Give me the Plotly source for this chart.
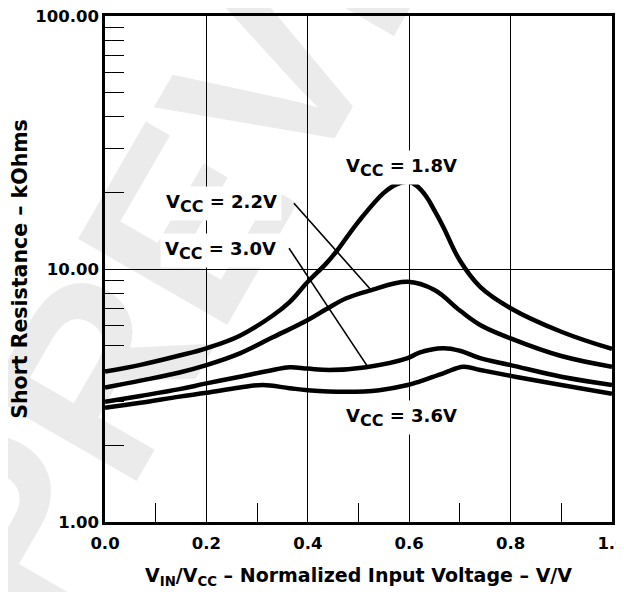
import base64
import plotly.graph_objects as go

# ---------------- data ----------------
x_18 = [0.0, 0.07, 0.147, 0.2, 0.266, 0.331, 0.364, 0.4, 0.436, 0.456, 0.5, 0.55, 0.575, 0.598, 0.615, 0.634, 0.65, 0.667, 0.70, 0.74, 0.8, 0.9, 1.0]
y_18 = [3.93, 4.18, 4.55, 4.86, 5.45, 6.55, 7.40, 8.90, 10.5, 11.7, 15.4, 20.0, 21.6, 22.1, 21.3, 19.3, 17.0, 14.7, 10.8, 8.5, 7.0, 5.65, 4.83]

x_22 = [0.0, 0.07, 0.147, 0.2, 0.266, 0.331, 0.4, 0.436, 0.476, 0.522, 0.597, 0.65, 0.70, 0.74, 0.8, 0.9, 1.0]
y_22 = [3.40, 3.62, 3.90, 4.17, 4.64, 5.37, 6.29, 6.93, 7.66, 8.21, 8.90, 8.26, 6.85, 6.01, 5.32, 4.53, 4.11]

x_30 = [0.0, 0.07, 0.147, 0.2, 0.266, 0.331, 0.364, 0.4, 0.443, 0.515, 0.597, 0.62, 0.667, 0.70, 0.74, 0.8, 0.9, 1.0]
y_30 = [2.99, 3.15, 3.35, 3.53, 3.75, 3.99, 4.09, 4.04, 3.99, 4.09, 4.44, 4.67, 4.86, 4.75, 4.44, 4.17, 3.75, 3.48]

x_36 = [0.0, 0.07, 0.147, 0.2, 0.266, 0.311, 0.364, 0.4, 0.476, 0.541, 0.597, 0.62, 0.667, 0.707, 0.74, 0.8, 0.9, 1.0]
y_36 = [2.83, 2.96, 3.13, 3.24, 3.40, 3.48, 3.38, 3.32, 3.27, 3.32, 3.48, 3.59, 3.87, 4.11, 3.99, 3.78, 3.48, 3.21]

series = [("V<sub>CC</sub> = 1.8V", x_18, y_18),
          ("V<sub>CC</sub> = 2.2V", x_22, y_22),
          ("V<sub>CC</sub> = 3.0V", x_30, y_30),
          ("V<sub>CC</sub> = 3.6V", x_36, y_36)]

x_tickvals = [0.0, 0.2, 0.4, 0.6, 0.8, 1.0]
x_ticktext = ["0.0", "0.2", "0.4", "0.6", "0.8", "1.0"]
x_minor = [0.1, 0.3, 0.5, 0.7, 0.9]
y_tickvals = [1, 10, 100]
y_ticktext = ["1.00", "10.00", "100.00"]
y_minor = [2, 3, 4, 5, 6, 7, 8, 9, 20, 30, 40, 50, 60, 70, 80, 90]

FONT = "DejaVu Sans, Liberation Sans, Arial, sans-serif"

fig = go.Figure()
for name, xs, ys in series:
    fig.add_trace(go.Scatter(
        x=xs, y=ys, mode="lines", name=name,
        line=dict(color="black", width=4.5, shape="spline", smoothing=1.1),
        showlegend=False, hoverinfo="skip"))

# watermark (light grey text, behind everything)
svg = (
    '<svg xmlns="http://www.w3.org/2000/svg" width="624" height="592">'
    '<text x="37" y="632" transform="rotate(-60 37 632)" '
    'font-family="Liberation Sans, Arial" font-weight="bold" font-size="250" '
    'fill="#ebebeb">PREVIEW</text></svg>'
)
src = "data:image/svg+xml;base64," + base64.b64encode(svg.encode()).decode()
fig.add_layout_image(dict(source=src, xref="paper", yref="paper",
                          x=-97 / 507, y=1 + 8 / 506,
                          sizex=624 / 507, sizey=592 / 506,
                          xanchor="left", yanchor="top",
                          sizing="stretch", layer="below"))

def lab(text):
    return text.replace("<sub>CC</sub>", "<sub><span style='font-size:16px'>CC</span></sub>")

label_pos = [
    ("V<sub>CC</sub> = 1.8V", 0.585, 1.415),
    ("V<sub>CC</sub> = 2.2V", 0.230, 1.273),
    ("V<sub>CC</sub> = 3.0V", 0.228, 1.087),
    ("V<sub>CC</sub> = 3.6V", 0.585, 0.427),
]
for t, ax_, ay_ in label_pos:
    fig.add_annotation(x=ax_, y=ay_, xref="x", yref="y", text=lab(t),
                       showarrow=False, bgcolor="white", borderpad=4, yshift=-3.5,
                       font=dict(family=FONT, size=18, color="black", weight="bold"))

# leader lines
leaders = [((0.370, 1.266), (0.523, 0.921)),
           ((0.361, 1.088), (0.518, 0.614))]
for (tx, ty), (hx, hy) in leaders:
    fig.add_annotation(x=hx, y=hy, ax=tx, ay=ty, xref="x", yref="y",
                       axref="x", ayref="y", text="", showarrow=True,
                       arrowhead=0, arrowwidth=1.6, arrowcolor="black",
                       standoff=0, startstandoff=0)

fig.update_layout(
    width=624, height=592,
    margin=dict(l=97, r=20, t=8, b=78, autoexpand=False),
    paper_bgcolor="white", plot_bgcolor="white",
    font=dict(family=FONT, color="black"),
    showlegend=False,
    xaxis=dict(
        range=[0, 1], tickvals=x_tickvals, ticktext=x_ticktext,
        showgrid=True, gridcolor="black", gridwidth=1.2,
        showline=True, linecolor="black", linewidth=2.5, mirror=True,
        ticks="", zeroline=False, ticklabelstandoff=4, automargin=False,
        ticklabeloverflow="allow",
        tickfont=dict(family=FONT, size=16.5, color="black", weight="bold"),
        minor=dict(tickvals=x_minor, ticks="inside", ticklen=19,
                   tickcolor="black", tickwidth=1.2, showgrid=False),
        title=dict(text="V<sub>IN</sub>/V<sub>CC</sub> – Normalized Input Voltage – V/V",
                   font=dict(family=FONT, size=19, color="black", weight="bold"),
                   standoff=18),
    ),
    yaxis=dict(
        type="log", range=[0, 2], tickvals=y_tickvals, ticktext=y_ticktext,
        showgrid=True, gridcolor="black", gridwidth=1.2,
        showline=True, linecolor="black", linewidth=2.5, mirror=True,
        ticks="", zeroline=False, ticklabelstandoff=0, automargin=False,
        ticklabeloverflow="allow",
        tickfont=dict(family=FONT, size=16.5, color="black", weight="bold"),
        minor=dict(tickvals=y_minor, ticks="inside", ticklen=19,
                   tickcolor="black", tickwidth=1.2, showgrid=False),
        title=dict(text="Short Resistance – kOhms",
                   font=dict(family=FONT, size=20.5, color="black", weight="bold"),
                   standoff=5),
    ),
)

fig.write_html("out.html")
